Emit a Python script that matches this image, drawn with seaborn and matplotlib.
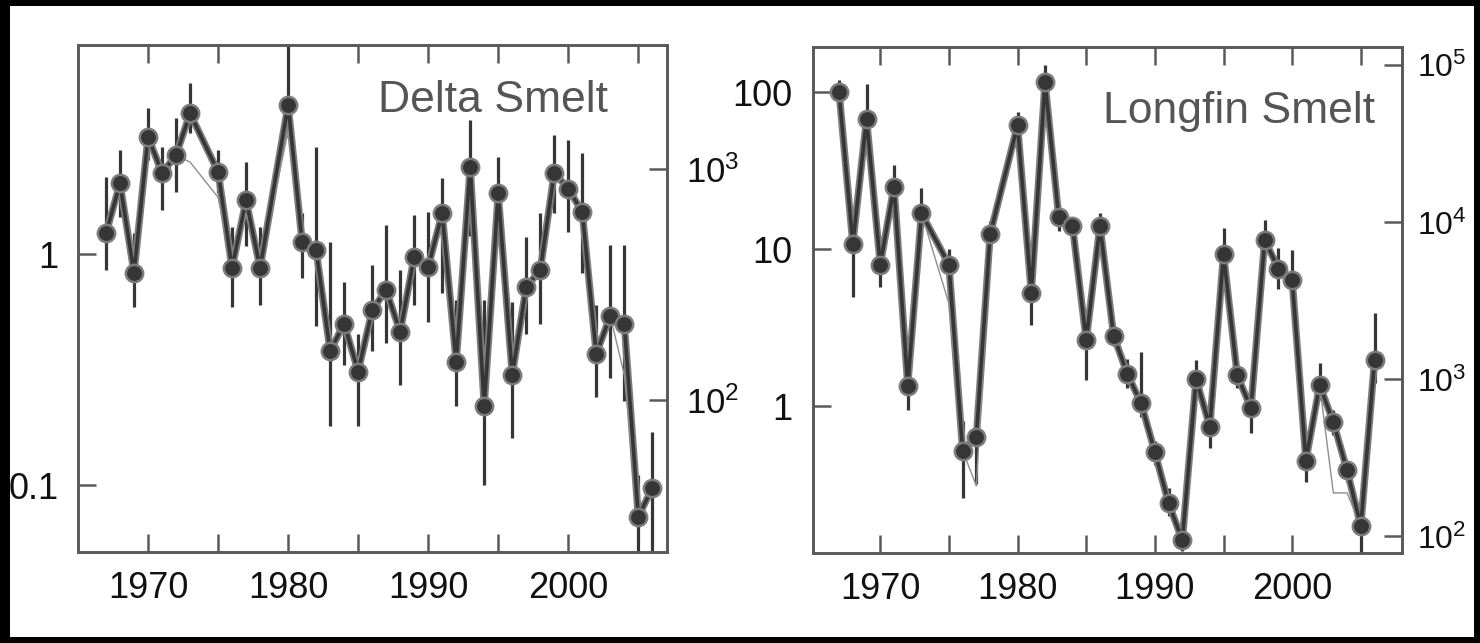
import numpy as np
import pandas as pd
import matplotlib
matplotlib.use('Agg')
import matplotlib.pyplot as plt
from matplotlib.patches import Rectangle
from matplotlib.ticker import NullLocator
import seaborn as sns

# Survey years (1974 and 1979 have no point in either series)
years = [1967, 1968, 1969, 1970, 1971, 1972, 1973,
         1975, 1976, 1977, 1978,
         1980, 1981, 1982, 1983, 1984, 1985, 1986, 1987, 1988, 1989,
         1990, 1991, 1992, 1993, 1994, 1995, 1996, 1997, 1998, 1999,
         2000, 2001, 2002, 2003, 2004, 2005, 2006]

# Delta smelt index (left log axis)
delta_value = [1.23, 2.02, 0.83, 3.22, 2.24, 2.68, 4.06,
               2.27, 0.87, 1.71, 0.87,
               4.42, 1.13, 1.04, 0.38, 0.50, 0.31, 0.57, 0.70, 0.46, 0.97,
               0.88, 1.50, 0.34, 2.38, 0.22, 1.83, 0.30, 0.72, 0.85, 2.24,
               1.92, 1.52, 0.37, 0.54, 0.50, 0.073, 0.097]
delta_lo = [0.85, 1.45, 0.59, 2.55, 1.55, 1.86, 3.34,
            1.84, 0.59, 1.08, 0.60,
            3.22, 0.79, 0.49, 0.18, 0.33, 0.18, 0.38, 0.41, 0.27, 0.60,
            0.51, 0.68, 0.22, 1.20, 0.10, 1.10, 0.16, 0.45, 0.50, 1.50,
            1.25, 0.83, 0.24, 0.29, 0.23, 0.04, 0.04]
delta_hi = [2.16, 2.82, 1.23, 4.27, 2.91, 3.86, 5.48,
            2.82, 1.31, 2.50, 1.31,
            9.00, 1.50, 2.90, 1.13, 0.76, 0.45, 0.90, 1.34, 0.85, 1.47,
            1.52, 2.13, 0.63, 3.80, 0.63, 2.64, 0.62, 1.19, 1.50, 3.27,
            3.10, 2.73, 0.60, 1.09, 1.09, 0.11, 0.17]
delta_fit = [1.23, 2.02, 0.95, 3.22, 2.24, 2.68, 2.50,
             1.76, 0.90, 1.50, 0.90,
             3.40, 1.13, 1.04, 0.38, 0.50, 0.31, 0.57, 0.70, 0.46, 0.97,
             0.88, 1.50, 0.34, 2.38, 0.22, 1.83, 0.30, 0.72, 0.85, 2.24,
             1.92, 1.52, 0.37, 0.54, 0.30, 0.073, 0.097]

# Longfin smelt index (left log axis)
longfin_value = [100, 10.8, 67.4, 7.97, 25.0, 1.35, 16.9,
                 7.97, 0.52, 0.64, 12.4,
                 61.6, 5.25, 116, 15.9, 14.1, 2.62, 14.1, 2.80, 1.60, 1.04,
                 0.51, 0.24, 0.14, 1.49, 0.74, 9.27, 1.57, 0.97, 11.4, 7.5,
                 6.35, 0.45, 1.36, 0.79, 0.39, 0.172, 1.96]
longfin_lo = [85, 4.97, 45, 5.75, 19, 0.94, 12,
              6.0, 0.26, 0.32, 10,
              50, 3.28, 95, 13, 12, 1.46, 11, 2.4, 1.3, 0.85,
              0.42, 0.20, 0.12, 1.2, 0.54, 7.5, 1.3, 0.67, 9.5, 5.6,
              5.5, 0.33, 1.1, 0.65, 0.33, 0.10, 1.4]
longfin_hi = [119, 15, 113, 10.5, 34.3, 1.9, 24.4,
              10, 0.8, 1.0, 15,
              75, 7.0, 148, 19, 16, 4.0, 17, 3.3, 2.0, 2.22,
              0.60, 0.30, 0.16, 1.96, 0.90, 13.6, 1.9, 1.3, 15.3, 10.1,
              9.85, 0.55, 1.88, 0.95, 0.45, 0.20, 3.9]
longfin_fit = [100, 10.8, 67.4, 7.97, 25.0, 1.35, 16.9,
               4.5, 0.52, 0.31, 12.4,
               61.6, 5.25, 116, 15.9, 14.1, 2.62, 14.1, 2.80, 1.60, 1.04,
               0.51, 0.24, 0.14, 1.49, 0.74, 9.27, 1.57, 0.97, 11.4, 7.5,
               6.35, 0.45, 1.36, 0.28, 0.28, 0.172, 1.96]

x_ticks = [1970, 1975, 1980, 1985, 1990, 1995, 2000, 2005]
x_labels = ['1970', '', '1980', '', '1990', '', '2000', '']

W, H = 1480, 643
SPINE = '#5a5a5a'
DARK = '#363636'
HALO = '#7c7c7c'

sns.set_theme(style="ticks")
plt.rcParams['font.family'] = ['Liberation Sans', 'DejaVu Sans']
plt.rcParams['mathtext.fontset'] = 'custom'
plt.rcParams['mathtext.rm'] = 'Liberation Sans'


def draw_panel(ax, value, lo, hi, fit, xlim, ylim, yticks, ylabels,
               factor, rticks, rlabels, title, title_xy, lpad, rsize, rpad):
    df = pd.DataFrame({"year": years, "value": value, "lo": lo, "hi": hi, "fit": fit})
    ax.set_yscale('log')
    ax.set_xlim(*xlim)
    ax.set_ylim(*ylim)

    ax.vlines(df["year"], df["lo"], df["hi"], color=DARK, lw=2.3, zorder=2)
    sns.lineplot(data=df, x="year", y="value", ax=ax, color=HALO, lw=5.2, zorder=3)
    sns.lineplot(data=df, x="year", y="fit", ax=ax, color='#8e8e8e', lw=1.0, zorder=4)
    sns.lineplot(data=df, x="year", y="value", ax=ax, color=DARK, lw=2.6, zorder=5,
                 marker='o', markersize=12.5, markerfacecolor=DARK,
                 markeredgecolor=HALO, markeredgewidth=1.8)

    ax.set_xlabel('')
    ax.set_ylabel('')
    ax.set_xticks(x_ticks)
    ax.set_xticklabels(x_labels)
    ax.set_yticks(yticks)
    ax.set_yticklabels(ylabels)
    ax.yaxis.set_minor_locator(NullLocator())
    ax.tick_params(axis='both', which='both', direction='in', length=13, width=1.8,
                   color=SPINE, labelsize=26, labelcolor='#111111')
    ax.tick_params(axis='x', top=True, pad=14)
    ax.tick_params(axis='y', right=False, pad=lpad)
    for sp in ax.spines.values():
        sp.set_visible(True)
        sp.set_color(SPINE)
        sp.set_linewidth(1.9)

    tw = ax.twinx()
    tw.set_yscale('log')
    tw.set_ylim(ylim[0] * factor, ylim[1] * factor)
    tw.set_yticks(rticks)
    tw.set_yticklabels(rlabels)
    tw.yaxis.set_minor_locator(NullLocator())
    tw.tick_params(axis='y', which='both', direction='in', length=13, width=1.8,
                   color=SPINE, labelsize=rsize, labelcolor='#111111', pad=rpad)
    for sp in tw.spines.values():
        sp.set_color(SPINE)
        sp.set_linewidth(1.9)

    ax.text(title_xy[0], title_xy[1], title, transform=ax.transAxes,
            ha='right', va='baseline', fontsize=32, color='#555555', zorder=6)


fig = plt.figure(figsize=(W / 100, H / 100), dpi=100)
fig.patch.set_facecolor('black')
fig.add_artist(Rectangle((10 / W, 1 - 637 / H), 1464 / W, 631 / H,
                         transform=fig.transFigure, facecolor='white',
                         edgecolor='none', zorder=0))

ax1 = fig.add_axes([78 / W, 1 - 552 / H, 589 / W, 507 / H])
ax2 = fig.add_axes([813 / W, 1 - 553 / H, 589 / W, 506 / H])

draw_panel(ax1, delta_value, delta_lo, delta_hi, delta_fit,
           xlim=(1965, 2007.05), ylim=(0.0513, 8.03),
           yticks=[0.1, 1], ylabels=['0.1', '1'],
           factor=427, rticks=[1e2, 1e3],
           rlabels=[r'$\mathregular{10^{2}}$', r'$\mathregular{10^{3}}$'],
           title='Delta Smelt', title_xy=(0.90, 0.868), lpad=14,
           rsize=25, rpad=14)

draw_panel(ax2, longfin_value, longfin_lo, longfin_hi, longfin_fit,
           xlim=(1965.1, 2008.0), ylim=(0.116, 193.6),
           yticks=[1, 10, 100], ylabels=['1', '10', '100'],
           factor=676, rticks=[1e2, 1e3, 1e4, 1e5],
           rlabels=[r'$\mathregular{10^{2}}$', r'$\mathregular{10^{3}}$',
                    r'$\mathregular{10^{4}}$', r'$\mathregular{10^{5}}$'],
           title='Longfin Smelt', title_xy=(0.954, 0.85), lpad=15,
           rsize=23, rpad=11)

fig.savefig('out.png', dpi=100, facecolor=fig.get_facecolor())
